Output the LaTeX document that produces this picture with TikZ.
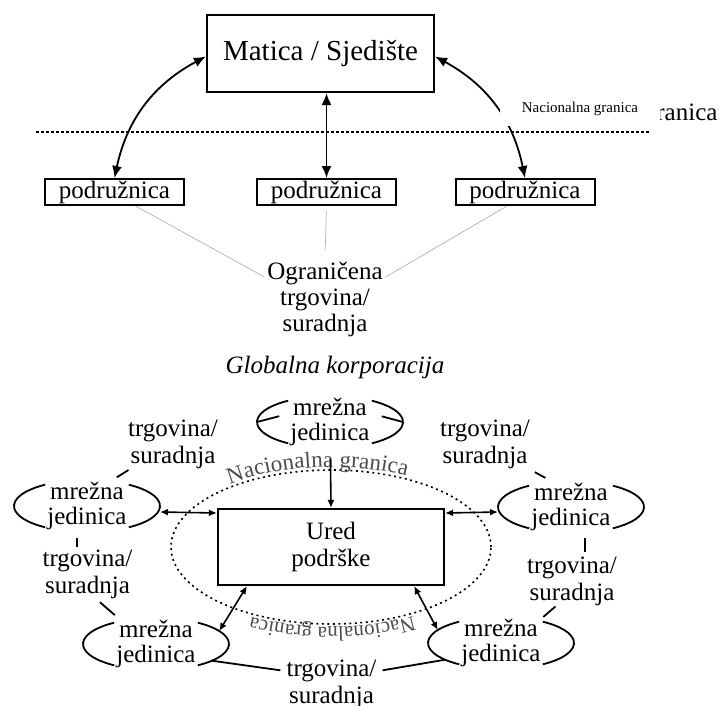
\documentclass[tikz,border=0pt]{standalone}
\usepackage{fontspec}
\setmainfont{Liberation Serif}
\usepackage{tikz}
\usetikzlibrary{shapes.geometric, arrows}
\usetikzlibrary{arrows.meta}
\usetikzlibrary{decorations.text}
\tikzstyle{office} = [draw, line width=2.2pt, minimum width=227pt, minimum height=77pt, inner sep=0pt, align=center]
\tikzstyle{branch} = [draw, line width=2pt, minimum width=139pt, minimum height=26pt, inner sep=0pt, font=\fontsize{25}{27}\selectfont]
\tikzstyle{trade} = [align=center, inner sep=6pt, font=\fontsize{25}{27}\selectfont]
\tikzstyle{unit} = [align=center, inner sep=2pt, font=\fontsize{25}{25}\selectfont]
\tikzstyle{tie} = [line width=1.8pt]
\tikzstyle{arrow} = [line width=1.8pt, <->, >={Latex[length=12pt,width=10pt]}]
\tikzstyle{smallarrow} = [line width=1.6pt, <->, >={Latex[length=8pt,width=7pt]}]
\tikzstyle{faint} = [line width=0.7pt, gray!60]
\tikzstyle{border} = [line width=2.4pt, dash pattern=on 3pt off 2pt]
\tikzstyle{borderloop} = [line width=1.6pt, dash pattern=on 2pt off 3.5pt]
\tikzstyle{bordertext} = [decorate, decoration={text along path, text align=center, raise=3pt, text color=black!70}]

% mreza jedinica: text in two bracket arcs
\newcommand{\netunit}[3]{%
  \node[unit] (#1) at (#2,#3) {mrežna\\jedinica};
  \draw[tie] ([shift={(125:73pt and 26pt)}]#1.center) arc[start angle=125, end angle=235, x radius=73pt, y radius=26pt];
  \draw[tie] ([shift={(-55:73pt and 26pt)}]#1.center) arc[start angle=-55, end angle=55, x radius=73pt, y radius=26pt];
  \path (#1.center) +(180:73pt and 26pt) coordinate (#1-w) +(0:73pt and 26pt) coordinate (#1-e)
    +(30:73pt and 26pt) coordinate (#1-ne) +(150:73pt and 26pt) coordinate (#1-nw)
    +(-40:73pt and 26pt) coordinate (#1-se) +(220:73pt and 26pt) coordinate (#1-sw);
}

\begin{document}
\begin{tikzpicture}[x=1pt, y=-1pt]
\useasboundingbox (0,0) rectangle (723,705);

% sjediste i podruznice
\node[office, font=\fontsize{29}{31}\selectfont] (hq) at (320.5,53.5) {Matica / Sjedište};
\node[branch] (podL) at (114.5,192) {podružnica};
\node[branch] (podM) at (326.5,192) {podružnica};
\node[branch] (podR) at (525,192) {podružnica};
\node[trade, inner sep=3pt, font=\fontsize{25}{26}\selectfont] (lim) at (325,299) {Ograničena\\trgovina/\\suradnja};

\coordinate (lineL) at (36,132);
\coordinate (lineR) at (650,132);
\draw[border] (lineL) -- (lineR);

\draw[arrow] ([yshift=-3pt]hq.west) to[bend right=25] (podL.north);
\draw[arrow] (hq.south -| podM.north) -- (podM.north);
\draw[arrow] ([yshift=-3pt]hq.east) to[bend left=25] (podR.north);

\draw[faint] ([xshift=21pt]podL.south) -- (lim.160);
\draw[faint, shorten <=5pt, shorten >=9pt] (podM.south) -- (lim.north);
\draw[faint] ([xshift=-18pt]podR.south) -- (lim.20);

\node[anchor=east, font=\fontsize{25}{27}\selectfont] (gran) at (721,115) {granica};
\node[fill=white, minimum width=160pt, minimum height=34pt, inner sep=0pt, font=\fontsize{15}{17}\selectfont] (natl) at (580,109) {Nacionalna granica};

% globalna korporacija
\node[font=\itshape\fontsize{25}{27}\selectfont] (corp) at (335,367) {Globalna korporacija};
\node[office, minimum width=226pt, minimum height=76pt, font=\fontsize{25}{27}\selectfont] (ured) at (331,547) {Ured\\podrške};

\netunit{top}{330}{422}
\netunit{left}{87}{506}
\netunit{right}{571}{507}
\netunit{botL}{156}{644}
\netunit{botR}{501}{643}

\node[trade] (tradeTL) at (173,444) {trgovina/\\suradnja};
\node[trade] (tradeTR) at (485,444) {trgovina/\\suradnja};
\node[trade] (tradeL) at (87.5,574) {trgovina/\\suradnja};
\node[trade] (tradeR) at (572,581) {trgovina/\\suradnja};
\node[trade] (tradeB) at (331.5,684) {trgovina/\\suradnja};

\draw[tie, shorten >=57pt] (top-w) -- (tradeTL);
\draw[tie, shorten >=54pt] (top-e) -- (tradeTR);
\draw[tie, shorten <=49pt, shorten >=54pt] ([xshift=-3pt]tradeTL.center) -- ([xshift=-16pt]left.center);
\draw[tie, shorten <=59pt, shorten >=61pt] ([xshift=-2pt]tradeTR.center) -- ([xshift=28pt]right.center);
\draw[tie, shorten <=32pt, shorten >=27pt] ([xshift=-10pt]left.center) -- ([xshift=-10.5pt]tradeL.center);
\draw[tie, shorten <=43pt, shorten >=44pt] ([xshift=-20pt]tradeL.center) -- ([xshift=-8pt]botL.center);
\draw[tie, shorten <=31pt, shorten >=29pt] ([xshift=14pt]right.center) -- ([xshift=13pt]tradeR.center);
\draw[tie, shorten <=39pt, shorten >=40pt] ([xshift=13pt]tradeR.center) -- ([xshift=12pt]botR.center);
\draw[tie] (botL-se) -- (tradeB.165);
\draw[tie] (botR-sw) -- (tradeB.15);

% nacionalna granica oko ureda
\draw[borderloop] (ured.center) ellipse [x radius=160pt, y radius=77pt];
\path[bordertext, decoration={text={|\fontsize{23}{23}\selectfont|Nacionalna granica}}]
  ([shift={(131.5:160pt and 77pt)}]ured.center) arc[start angle=131.5, end angle=59.6, x radius=160pt, y radius=77pt];
\path[bordertext, decoration={text={|\fontsize{21}{21}\selectfont|Nacionalna granica}}]
  ([shift={(-57:160pt and 77pt)}]ured.center) arc[start angle=-57, end angle=-122, x radius=160pt, y radius=77pt];

\draw[smallarrow, ->, shorten <=37pt] (top.center) -- (ured.north);
\draw[smallarrow] ([yshift=-6pt]left-e) -- ([yshift=34pt]ured.west);
\draw[smallarrow] ([yshift=34pt]ured.east) -- ([yshift=-5pt]right-w);
\draw[smallarrow] ([xshift=30pt]ured.south west) -- (botL-ne);
\draw[smallarrow] ([xshift=-31pt]ured.south east) -- (botR-nw);
\end{tikzpicture}
\end{document}
